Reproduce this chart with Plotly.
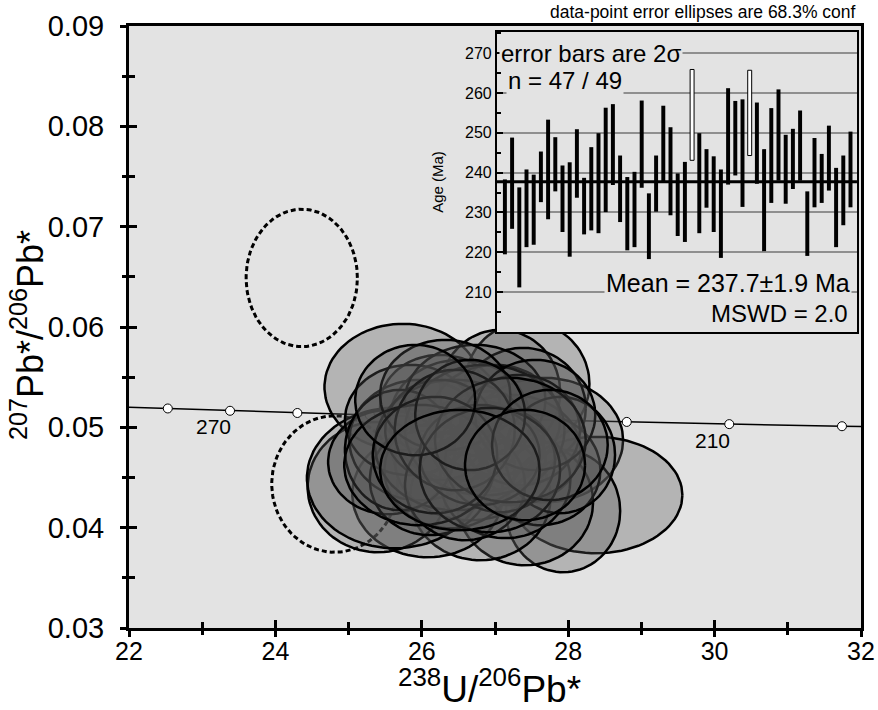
import numpy as np
import plotly.graph_objects as go

# concordia ages (Ma) and their positions
conc_age = [280, 270, 260, 250, 240, 230, 220, 210, 200]
conc_x = [22.53, 23.38, 24.30, 25.29, 26.36, 27.53, 28.80, 30.20, 31.74]
conc_y = [0.05188, 0.05165, 0.05143, 0.05121, 0.05098, 0.05076, 0.05054, 0.05032, 0.05011]
conc_labels = [270, 210]
# where the curve meets the frame
end_x = [22.0, 32.0]
end_y = [0.05201, 0.05008]

# accepted analyses: ellipse centre and semi-axes (238U/206Pb, 207Pb/206Pb)
ell_x = [25.74, 27.44, 27.07, 27.68, 28.38, 27.93, 27.41, 26.80, 26.08, 25.40, 25.63,
         26.25, 26.89, 27.38, 25.54, 26.52, 26.66, 27.21, 25.97, 26.38, 27.00, 27.62,
         25.84, 26.73, 26.11, 27.14, 26.45, 26.86, 26.25, 27.34, 25.70, 27.89, 26.59,
         27.07, 26.32, 27.55, 25.97, 26.79, 26.45, 27.21, 26.18, 26.93, 26.66, 27.75,
         25.91, 26.52, 27.41]
ell_y = [0.05402, 0.05432, 0.05352, 0.04873, 0.04325, 0.04166, 0.04255, 0.04305, 0.04335,
         0.04405, 0.04495, 0.05222, 0.04863, 0.05192, 0.04654, 0.05073, 0.04674, 0.04774,
         0.04873, 0.04574, 0.05073, 0.04574, 0.05073, 0.05272, 0.04475, 0.04475, 0.04824,
         0.04973, 0.04973, 0.04973, 0.04774, 0.04724, 0.04425, 0.04674, 0.05322, 0.05123,
         0.04624, 0.04724, 0.04973, 0.04873, 0.04724, 0.04574, 0.05123, 0.04824, 0.05272,
         0.04574, 0.04624]
ell_sx = [1.07, 0.85, 0.82, 1.07, 1.18, 0.78, 0.93, 0.96, 1.03, 0.96, 1.20,
          0.82, 0.78, 0.86, 0.82, 0.96, 1.03, 0.96, 0.96, 0.89, 0.89, 0.82,
          0.89, 0.96, 0.82, 0.89, 1.09, 1.09, 0.75, 0.82, 0.75, 0.75, 0.82,
          0.75, 0.89, 0.82, 1.03, 0.82, 0.82, 1.03, 0.85, 0.96, 0.75, 0.79,
          0.82, 1.09, 0.82]
ell_sy = [0.0063, 0.0062, 0.0062, 0.0062, 0.0058, 0.0061, 0.0063, 0.0063, 0.0063, 0.0065, 0.0070,
          0.0050, 0.0050, 0.0060, 0.0052, 0.0060, 0.0060, 0.0055, 0.0060, 0.0058, 0.0055, 0.0055,
          0.0055, 0.0055, 0.0055, 0.0058, 0.0065, 0.0065, 0.0050, 0.0055, 0.0060, 0.0058, 0.0055,
          0.0052, 0.0055, 0.0055, 0.0060, 0.0050, 0.0060, 0.0062, 0.0058, 0.0062, 0.0055, 0.0055,
          0.0055, 0.0060, 0.0055]

# rejected analyses (dashed)
rej_x = [24.36, 24.81]
rej_y = [0.06489, 0.04435]
rej_sx = [0.76, 0.86]
rej_sy = [0.00685, 0.0068]

# inset: 2-sigma age bars (Ma)
spot = list(range(1, 50))
age_hi = [238.3, 248.8, 236.3, 240.8, 239.5, 245.3, 253.3, 248.9, 241.8, 242.6, 250.9, 238.7,
          246.4, 249.9, 256.3, 257.2, 244.3, 238.9, 240.2, 258.1, 234.8, 244.3, 256.8, 251.4,
          239.8, 242.7, 265.9, 249.9, 245.9, 244.1, 240.8, 261.2, 258.0, 258.4, 265.7, 257.6,
          245.9, 256.2, 260.9, 249.5, 251.0, 255.6, 235.3, 248.7, 244.7, 251.8, 241.2, 244.3, 250.3]
age_lo = [219.5, 225.9, 211.2, 221.3, 221.9, 232.6, 228.3, 235.3, 225.1, 218.9, 233.7, 224.5,
          225.5, 224.8, 230.1, 236.9, 227.6, 220.5, 221.3, 236.2, 218.3, 230.2, 237.4, 229.3,
          224.1, 222.6, 243.1, 224.8, 231.2, 225.1, 218.6, 237.0, 239.3, 231.4, 244.3, 237.2,
          220.3, 232.4, 238.0, 232.2, 235.9, 238.0, 219.1, 231.3, 232.4, 235.5, 221.3, 226.8, 231.3]
rejected = [27, 35]
mean_age = 237.7
inset_ticks = [210, 220, 230, 240, 250, 260, 270]

BG = "#e3e3e3"
FONT = "Liberation Sans, Arial, sans-serif"

fig = go.Figure()

# concordia curve
fig.add_trace(go.Scatter(x=[end_x[0]] + conc_x + [end_x[1]], y=[end_y[0]] + conc_y + [end_y[1]],
                         mode="lines", line=dict(color="black", width=1.5), hoverinfo="skip"))
fig.add_trace(go.Scatter(x=conc_x, y=conc_y, mode="markers",
                         marker=dict(size=9, color="white", line=dict(color="black", width=1))))

t = np.linspace(0, 2 * np.pi, 90)
for cx, cy, sx, sy in zip(rej_x, rej_y, rej_sx, rej_sy):
    fig.add_trace(go.Scatter(x=cx + sx * np.cos(t), y=cy + sy * np.sin(t), mode="lines",
                             line=dict(color="black", width=3, dash="5px,3px")))
for cx, cy, sx, sy in zip(ell_x, ell_y, ell_sx, ell_sy):
    fig.add_trace(go.Scatter(x=cx + sx * np.cos(t), y=cy + sy * np.sin(t), mode="lines",
                             fill="toself", fillcolor="rgba(85,85,85,0.33)",
                             line=dict(color="black", width=2.5)))

# dummy trace so the inward-tick overlay axes get drawn
fig.add_trace(go.Scatter(x=[None], y=[None], xaxis="x3", yaxis="y3"))

# inset bars
ok = [i for i in spot if i not in rejected]
fig.add_trace(go.Bar(x=ok, y=[age_hi[i - 1] - age_lo[i - 1] for i in ok],
                     base=[age_lo[i - 1] for i in ok], width=0.55,
                     marker=dict(color="black", line=dict(width=0)),
                     xaxis="x2", yaxis="y2"))
fig.add_trace(go.Bar(x=rejected, y=[age_hi[i - 1] - age_lo[i - 1] for i in rejected],
                     base=[age_lo[i - 1] for i in rejected], width=0.55,
                     marker=dict(color="white", line=dict(color="black", width=1)),
                     xaxis="x2", yaxis="y2"))
fig.add_trace(go.Scatter(x=[-0.1, 49.9], y=[mean_age, mean_age], mode="lines",
                         line=dict(color="black", width=3), xaxis="x2", yaxis="y2"))

axis_common = dict(showline=True, linecolor="black", linewidth=3, showgrid=False, zeroline=False,
                   ticks="outside", ticklen=6, tickwidth=3, tickcolor="black", automargin=False)
overlay_common = dict(showline=False, showgrid=False, zeroline=False, showticklabels=False,
                      ticks="inside", ticklen=8, tickwidth=3, tickcolor="black", automargin=False)
fig.update_layout(
    width=878, height=710, autosize=False,
    margin=dict(l=129, r=17, t=26, b=82),
    paper_bgcolor="white", plot_bgcolor=BG,
    showlegend=False, barmode="overlay",
    font=dict(family=FONT, color="black"),
    xaxis=dict(axis_common, range=[22, 32], dtick=2, mirror=True,
               minor=dict(dtick=1, ticks="outside", ticklen=4, tickwidth=2.5, tickcolor="black"),
               tickfont=dict(size=25), ticklabelstandoff=-7),
    yaxis=dict(axis_common, range=[0.03, 0.09], dtick=0.01, tickformat=".2f", mirror=True,
               minor=dict(dtick=0.005, ticks="outside", ticklen=4, tickwidth=2.5, tickcolor="black"),
               tickfont=dict(size=29), ticklabelstandoff=10),
    xaxis3=dict(overlay_common, overlaying="x", range=[22, 32], dtick=2,
                minor=dict(dtick=1, ticks="inside", ticklen=6, tickwidth=2.5, tickcolor="black")),
    yaxis3=dict(overlay_common, overlaying="y", range=[0.03, 0.09], dtick=0.01,
                minor=dict(dtick=0.005, ticks="inside", ticklen=6, tickwidth=2.5, tickcolor="black")),
    xaxis2=dict(domain=[0.5027, 0.9945], anchor="y2", range=[-0.1, 49.9], showticklabels=False,
                ticks="", showline=True, mirror=True, linecolor="black", linewidth=2,
                showgrid=False, zeroline=False, automargin=False),
    yaxis2=dict(domain=[0.4917, 0.990], anchor="x2", range=[200, 275.3], tickvals=inset_ticks,
                showline=True, mirror=True, linecolor="black", linewidth=2, zeroline=False,
                showgrid=True, gridcolor="#8f8f8f", gridwidth=1.5, automargin=False,
                ticks="inside", ticklen=6, tickwidth=1.5, tickcolor="black",
                minor=dict(dtick=5, ticks="inside", ticklen=4, tickcolor="black"),
                tickfont=dict(size=16),
                title=dict(text="Age (Ma)", font=dict(size=15), standoff=18)),
)

annotations = [
    dict(text="<sup>238</sup>U/<sup>206</sup>Pb*", xref="paper", yref="paper", x=0.493, y=-0.098,
         xanchor="center", yanchor="middle", showarrow=False, font=dict(size=37)),
    dict(text="<sup>207</sup>Pb*/<sup>206</sup>Pb*", xref="paper", yref="paper", x=-0.139, y=0.487,
         xanchor="center", yanchor="middle", textangle=-90, showarrow=False, font=dict(size=36)),
    dict(text="data-point error ellipses are 68.3% conf", xref="paper", yref="paper",
         x=0.996, y=1.0233, xanchor="right", yanchor="middle", showarrow=False, font=dict(size=17.5)),
    dict(text="error bars are 2σ", xref="x2 domain", yref="y2 domain", x=0.006, y=0.93,
         xanchor="left", yanchor="middle", showarrow=False, font=dict(size=24), bgcolor=BG),
    dict(text="n = 47 / 49", xref="x2 domain", yref="y2 domain", x=0.026, y=0.84,
         xanchor="left", yanchor="middle", showarrow=False, font=dict(size=24), bgcolor=BG),
    dict(text="Mean = 237.7\u00b11.9 Ma", xref="x2 domain", yref="y2 domain", x=0.985, y=0.163,
         xanchor="right", yanchor="middle", showarrow=False, font=dict(size=25), bgcolor=BG),
    dict(text="MSWD = 2.0", xref="x2 domain", yref="y2 domain", x=0.98, y=0.063,
         xanchor="right", yanchor="middle", showarrow=False, font=dict(size=24), bgcolor=BG),
]
for a in conc_labels:
    i = conc_age.index(a)
    annotations.append(dict(text=str(a), x=conc_x[i], y=conc_y[i], xshift=-17, yshift=-16,
                            showarrow=False, font=dict(size=21)))
fig.update_layout(annotations=annotations)

# drop the browser's default 8 px body margin so the figure fills the window
fig.write_html("out.html", config={"displayModeBar": False},
               post_script="document.body.style.margin='0';")
